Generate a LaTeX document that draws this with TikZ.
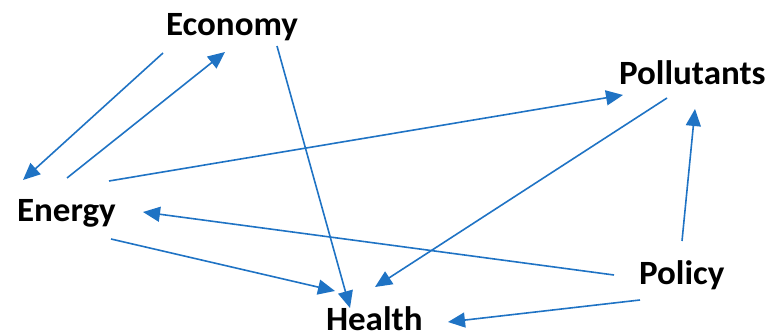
\documentclass[tikz,border=0pt]{standalone}
\usepackage{fontspec}
\setmainfont{Carlito}
\usetikzlibrary{arrows.meta}
\definecolor{linkblue}{RGB}{31,115,196}
\tikzset{
  factor/.style={font=\fontsize{34}{40}\selectfont\bfseries, inner sep=0pt, outer sep=0pt, anchor=base west, xscale=1.03},
  link/.style={draw=linkblue, line width=1.6pt, -{Triangle[length=17pt,width=15pt]}}
}
\begin{document}
\begin{tikzpicture}[x=1pt,y=-1pt]
  \useasboundingbox (0,0) rectangle (768,336);
  % factors
  \node[factor] (economy) at (166,36) {Economy};
  \node[factor] (pollutants) at (619,85) {Pollutants};
  \node[factor] (energy) at (17,222) {Energy};
  \node[factor] (policy) at (639,285) {Policy};
  \node[factor] (health) at (326,331) {Health};
  % links between factors
  \draw[link] ([shift={(-3,17)}]economy.base west) -- ([shift={(6,-42)}]energy.base west);
  \draw[link] ([shift={(50,-44)}]energy.base west) -- ([shift={(59,16)}]economy.base west);
  \draw[link] ([shift={(92,-41)}]energy.base west) -- ([shift={(4,10)}]pollutants.base west);
  \draw[link] ([shift={(111,10)}]economy.base west) -- ([shift={(24,-23)}]health.base west);
  \draw[link] ([shift={(48,13)}]pollutants.base west) -- ([shift={(49,-44)}]health.base west);
  \draw[link] ([shift={(-25,-10)}]policy.base west) -- ([shift={(126,-10)}]energy.base west);
  \draw[link] ([shift={(94,17)}]energy.base west) -- ([shift={(9,-40)}]health.base west);
  \draw[link] ([shift={(43,-44)}]policy.base west) -- ([shift={(76,24)}]pollutants.base west);
  \draw[link] ([shift={(1,15)}]policy.base west) -- ([shift={(122,-9)}]health.base west);
\end{tikzpicture}
\end{document}
